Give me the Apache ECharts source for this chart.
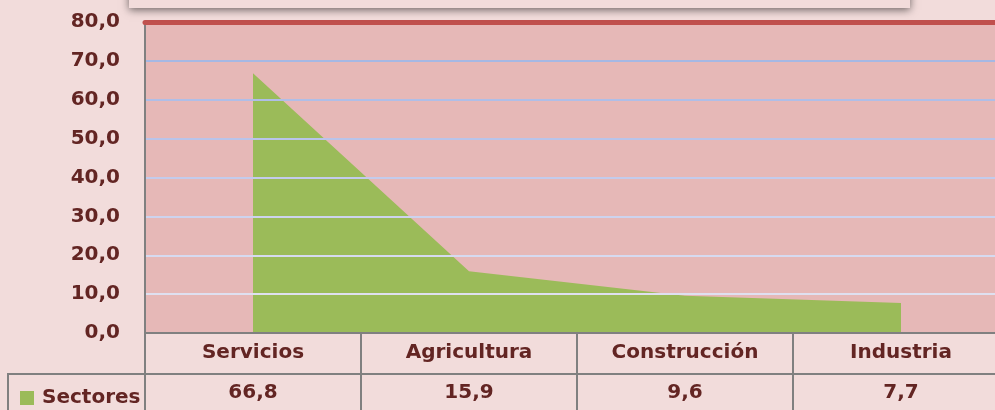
<!DOCTYPE html>
<html lang="es">
<head>
    <meta charset="UTF-8">
    <title>Sectores</title>
    <script src="https://cdn.jsdelivr.net/npm/echarts@6/dist/echarts.min.js" type="text/javascript"></script>
</head>
<body>
<style>
    html, body {
        margin: 0;
        height: 100%;
        width: 100%;
        overflow: hidden;
        background: #f2dcdb;
    }

    /* el gráfico original sigue por la derecha, fuera de la imagen */
    #main {
        width: 1009px;
        height: 410px;
    }
</style>
<div id="main"></div>
<script type="text/javascript">
    // datos del gráfico
    var categorias = ['Servicios', 'Agricultura', 'Construcción', 'Industria']
    var sectores = [66.8, 15.9, 9.6, 7.7]
    var serieNombre = 'Sectores'
    // colores de las líneas de división, de 0 a 80
    var coloresDivision = ['#dfe0f0', '#dfe0f0', '#d6daf0', '#cdd3ee', '#c3cbec', '#b9c4ea', '#afbee7', '#a5b8e4', '#a5b8e4']

    var texto = '#632523'
    var fuente = 'DejaVu Sans'

    function coma(v) {
        return Number(v).toFixed(1).replace('.', ',')
    }

    var myChart = echarts.init(document.getElementById('main'))

    var option = {
        backgroundColor: '#f2dcdb',
        animation: false,
        textStyle: {fontFamily: fuente},
        graphic: [
            // recuadro del título, cortado arriba
            {
                type: 'rect',
                shape: {x: 129, y: -40, width: 781, height: 48},
                style: {
                    fill: '#f2dcdb',
                    shadowBlur: 8,
                    shadowOffsetY: 2,
                    shadowColor: 'rgba(0,0,0,0.55)'
                },
                z: 10
            },
            // caja de la leyenda en la tabla de datos
            {
                type: 'rect',
                shape: {x: 8, y: 374, width: 137, height: 60},
                style: {fill: 'none', stroke: '#808080', lineWidth: 2},
                z: 5
            }
        ],
        legend: {
            data: [serieNombre],
            left: 15,
            top: 383,
            icon: 'rect',
            itemWidth: 14,
            itemHeight: 14,
            textStyle: {
                color: texto,
                fontWeight: 'bold',
                fontSize: 20,
                fontFamily: fuente,
                padding: [0, 0, 0, 3]
            }
        },
        grid: {
            left: 145,
            right: 0,
            top: 22,
            bottom: 77,
            show: true,
            backgroundColor: '#e6b8b7',
            borderWidth: 0
        },
        xAxis: [
            {
                type: 'category',
                data: categorias,
                position: 'bottom',
                boundaryGap: true,
                axisLine: {onZero: false, lineStyle: {color: '#808080', width: 2}},
                axisTick: {show: true, length: 80, interval: 0, lineStyle: {color: '#808080', width: 2}},
                axisLabel: {
                    interval: 0,
                    margin: 10,
                    color: texto,
                    fontWeight: 'bold',
                    fontSize: 20,
                    fontFamily: fuente
                },
                z: 4
            },
            {
                type: 'category',
                data: categorias,
                position: 'top',
                axisLine: {onZero: false, lineStyle: {color: '#c0504d', width: 5}},
                axisTick: {show: false},
                axisLabel: {show: false},
                z: 6
            },
            {
                type: 'category',
                data: categorias,
                position: 'bottom',
                offset: 41,
                axisLine: {onZero: false, lineStyle: {color: '#808080', width: 2}},
                axisTick: {show: false},
                axisLabel: {
                    interval: 0,
                    margin: 9,
                    color: texto,
                    fontWeight: 'bold',
                    fontSize: 20,
                    fontFamily: fuente,
                    formatter: function (v, i) {
                        return coma(sectores[i])
                    }
                }
            }
        ],
        yAxis: {
            type: 'value',
            min: 0,
            max: 80,
            interval: 10,
            axisLine: {show: true, onZero: false, lineStyle: {color: '#808080', width: 2}},
            axisTick: {show: false},
            axisLabel: {
                margin: 25,
                color: texto,
                fontWeight: 'bold',
                fontSize: 20,
                fontFamily: fuente,
                formatter: coma
            },
            splitLine: {
                show: true,
                lineStyle: {color: coloresDivision, width: 2}
            },
            z: 4
        },
        series: [{
            name: serieNombre,
            type: 'line',
            data: sectores,
            symbol: 'none',
            color: '#9bbb59',
            lineStyle: {width: 0, color: '#9bbb59'},
            areaStyle: {color: '#9bbb59', opacity: 1},
            z: 3
        }]
    }

    myChart.setOption(option)
</script>
</body>
</html>
